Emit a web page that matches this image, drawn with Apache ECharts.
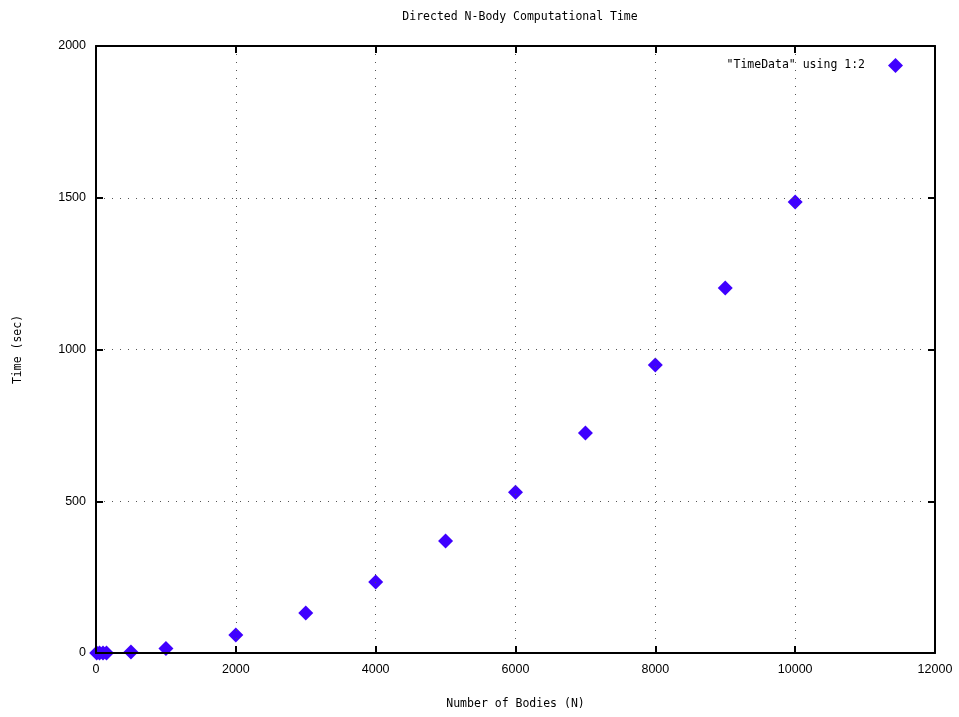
<!DOCTYPE html>
<html>
<head>
<meta charset="utf-8">
<script src="https://cdn.jsdelivr.net/npm/echarts@6/dist/echarts.min.js"></script>
<style>
  html, body { margin: 0; padding: 0; background: #fff; }
  #chart { width: 959px; height: 717px; }
</style>
</head>
<body>
<div id="chart"></div>
<script>
// Number of bodies simulated and the measured run time (seconds)
const bodies = [10, 50, 100, 150, 500, 1000, 2000, 3000, 4000, 5000, 6000, 7000, 8000, 9000, 10000];
const seconds = [0, 0, 0.02, 0.05, 3, 15, 59, 132, 234, 369, 530, 725, 949, 1203, 1486];

const xTicks = { min: 0, max: 12000, interval: 2000 };
const yTicks = { min: 0, max: 2000, interval: 500 };

const points = bodies.map((n, i) => [n, seconds[i]]);

const monoFont = 'DejaVu Sans Mono';
const tickFont = 'Liberation Sans';
const markColor = '#3f00ff';

const gridLine = { show: true, lineStyle: { color: '#555', width: 1, type: [1, 7] } };
const frame = { show: true, onZero: false, lineStyle: { color: '#000', width: 2 } };
const tick = { show: true, inside: true, length: 7, lineStyle: { color: '#000', width: 2 } };

function mainAxis(pos, t, name, nameGap) {
  return {
    type: 'value', position: pos, min: t.min, max: t.max, interval: t.interval,
    name: name, nameLocation: 'middle', nameGap: nameGap,
    nameTextStyle: { fontFamily: monoFont, fontSize: 11.5, color: '#000' },
    axisLine: frame,
    axisTick: tick,
    axisLabel: {
      fontFamily: tickFont, fontSize: 12.5, color: '#000', margin: 10,
      formatter: v => String(v)
    },
    splitLine: gridLine,
    z: 5
  };
}
function mirrorAxis(pos, t) {
  return {
    type: 'value', position: pos, min: t.min, max: t.max, interval: t.interval,
    axisLine: frame,
    axisTick: tick,
    axisLabel: { show: false },
    splitLine: { show: false },
    z: 5
  };
}

const chart = echarts.init(document.getElementById('chart'), null, { renderer: 'canvas' });
chart.setOption({
  animation: false,
  backgroundColor: '#fff',
  title: {
    text: 'Directed N-Body Computational Time',
    left: 515, top: 6, textAlign: 'center',
    textStyle: { fontFamily: monoFont, fontSize: 11.5, fontWeight: 'normal', color: '#000' }
  },
  grid: { left: 96, right: 24, top: 46, bottom: 64 },
  legend: {
    right: 51, top: 53, align: 'right', itemWidth: 15, itemHeight: 15,
    data: [{ name: '"TimeData" using 1:2', icon: 'diamond' }],
    textStyle: { fontFamily: monoFont, fontSize: 11.5, color: '#000', padding: [0, 18, 0, 0] }
  },
  xAxis: [
    mainAxis('bottom', xTicks, 'Number of Bodies (N)', 45),
    mirrorAxis('top', xTicks)
  ],
  yAxis: [
    mainAxis('left', yTicks, 'Time (sec)', 72),
    mirrorAxis('right', yTicks)
  ],
  series: [{
    name: '"TimeData" using 1:2',
    type: 'scatter',
    symbol: 'diamond',
    symbolSize: 15,
    itemStyle: { color: markColor, opacity: 1 },
    data: points
  }]
});
</script>
</body>
</html>
